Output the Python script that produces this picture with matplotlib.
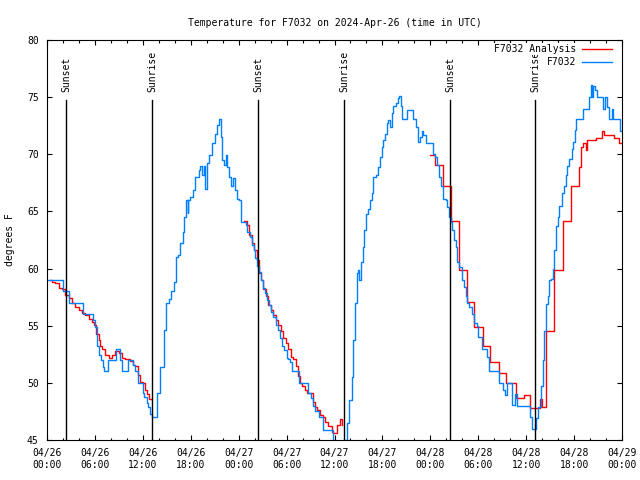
import datetime
import numpy as np
import matplotlib
matplotlib.use("Agg")
import matplotlib.pyplot as plt
import matplotlib.dates as mdates
import matplotlib.transforms as mtransforms

start = datetime.datetime(2024, 4, 26)

# observed F7032 temperature (hours since 04/26 00:00 UTC, deg F)
obs_hours = [0.0, 1.96, 2.8, 4.47, 5.7, 6.0, 6.2, 6.3, 6.55, 6.76, 6.97, 7.18, 7.39,
             7.68, 7.89, 8.64, 9.14, 9.43, 10.2, 10.75, 11.0, 11.4, 12.06, 12.2, 12.5,
             12.7, 12.9, 13.1, 13.3, 13.5, 13.77, 14.19, 14.6, 14.9, 15.23, 15.53,
             15.86, 16.15, 16.4, 16.7, 16.99, 17.2, 17.4, 17.6, 17.7, 17.95, 18.3,
             18.57, 18.99, 19.2, 19.4, 19.6, 19.8, 19.99, 20.3, 20.7, 21.0, 21.3,
             21.58, 21.8, 21.95, 22.16, 22.37, 22.58, 22.79, 23.0, 23.33, 23.54,
             23.83, 24.08, 24.25, 24.67, 24.9, 25.1, 25.4, 25.63, 25.9, 26.1, 26.34,
             26.59, 26.8, 27.0, 27.3, 27.5, 27.8, 28.05, 28.34, 28.67, 28.97, 29.17,
             29.47, 29.72, 30.0, 30.2, 30.43, 30.64, 31.39, 31.55, 32.6, 32.72, 33.0,
             33.35, 33.6, 34.0, 34.6, 35.65, 35.85, 36.5, 37.0, 37.3, 37.6, 37.86,
             38.15, 38.36, 38.57, 38.77, 38.98, 39.1, 39.32, 39.53, 39.74, 39.95,
             40.23, 40.45, 40.65, 40.86, 41.2, 41.49, 41.7, 41.9, 42.11, 42.32,
             42.53, 42.74, 42.95, 43.16, 43.37, 43.7, 43.99, 44.1, 44.27, 44.4,
             44.8, 45.03, 45.5, 45.87, 46.2, 46.4, 46.7, 46.9, 47.1, 47.46, 48.17,
             48.29, 48.58, 48.79, 49.08, 49.33, 49.55, 49.96, 50.13, 50.34, 50.55,
             50.76, 50.97, 51.17, 51.38, 51.59, 51.93, 52.22, 52.47, 52.64, 52.85,
             53.17, 53.47, 53.8, 54.0, 54.43, 55.06, 55.39, 56.64, 57.14, 57.4,
             57.64, 58.18, 58.6, 58.8, 60.48, 60.69, 61.23, 61.52, 61.82, 62.07,
             62.28, 62.48, 62.69, 62.9, 63.1, 63.32, 63.53, 63.74, 63.95, 64.16,
             64.45, 64.74, 64.95, 65.15, 65.36, 65.7, 65.9, 66.1, 66.24, 67.07,
             67.87, 68.08, 68.29, 68.4, 68.62, 68.83, 69.58, 69.87, 70.08, 70.4,
             70.7, 70.9, 71.75, 72.0]
obs_temps = [59.0, 58.0, 57.0, 56.0, 55.5, 54.9, 54.0, 53.2, 52.4, 52.0, 51.4, 51.0, 51.0,
             52.0, 52.0, 53.0, 52.0, 51.0, 52.0, 51.6, 51.0, 50.0, 49.1, 48.8, 48.2,
             47.9, 47.3, 47.0, 47.0, 47.0, 49.1, 51.4, 54.6, 57.0, 57.3, 58.0,
             58.85, 61.0, 61.2, 62.2, 63.2, 64.5, 66.0, 64.9, 66.0, 66.3, 66.9,
             68.0, 68.6, 69.0, 68.2, 69.0, 67.0, 69.2, 69.9, 71.0, 71.8, 72.6,
             73.06, 71.5, 69.5, 69.06, 69.9, 68.9, 68.0, 67.2, 67.9, 66.9,
             66.1, 66.0, 64.1, 64.1, 63.8, 63.2, 62.8, 62.06, 61.6, 60.9, 60.2,
             59.7, 59.0, 58.3, 57.83, 57.25, 56.8, 56.2, 55.8, 55.06, 54.6, 53.9,
             53.2, 52.9, 52.2, 52.05, 51.8, 51.0, 51.0, 50.0, 50.0, 49.1, 48.7,
             48.0, 47.5, 47.0, 45.9, 45.9, 44.5, 44.0, 44.5, 45.0, 46.5, 48.5,
             50.5, 53.75, 57.0, 59.6, 59.9, 59.0, 60.6, 61.9, 63.4, 64.8,
             65.2, 66.0, 66.6, 68.0, 68.2, 68.9, 69.8, 70.66, 71.25, 71.8,
             72.7, 73.0, 72.4, 73.6, 74.2, 74.5, 74.9, 75.1, 74.2, 73.06,
             73.06, 73.9, 73.9, 73.06, 72.4, 71.1, 71.5, 72.0, 71.7, 71.0, 71.0,
             70.0, 69.8, 69.1, 68.0, 67.2, 66.1, 66.0, 65.4, 64.5, 64.1,
             63.4, 62.5, 61.9, 60.6, 60.1, 59.0, 58.4, 57.6, 57.0, 56.6,
             56.0, 55.2, 55.0, 54.04, 53.0, 52.3, 51.0, 50.0, 49.4, 48.9,
             50.0, 48.06, 49.0, 48.0, 47.0, 46.0, 46.9, 47.9, 49.7, 52.0,
             54.5, 56.9, 57.6, 59.0, 59.1, 60.0, 61.6, 63.7, 64.5, 65.5,
             66.6, 67.2, 68.2, 69.0, 69.6, 70.5, 71.1, 72.1, 73.06, 74.0,
             75.03, 76.06, 75.0, 76.0, 75.6, 75.0, 74.0, 75.0, 74.1, 73.1,
             74.0, 73.06, 72.06, 72.06]

# F7032 analysis (NaN marks gaps)
ana_hours = [0.4, 0.63, 1.04, 1.46, 1.88, 2.3, 2.71, 3.13, 3.55, 3.96, 4.38, 4.8, 5.22,
             5.63, 5.93, 6.18, 6.47, 6.68, 6.89, 7.3, 7.72, 8.14, 8.56, 8.97, 9.39,
             9.81, 10.35, 10.77, 11.06, 11.35, 11.69, 12.02, 12.31, 12.52, 12.73,
             13.02, 13.03,
             24.71, 25.0, 25.34, 25.63, 25.96, 26.25, 26.55, 26.8, 27.09, 27.38,
             27.72, 28.0, 28.34, 28.67, 28.97, 29.26, 29.6, 29.93, 30.22, 30.51,
             30.85, 31.14, 31.39, 31.68, 31.98, 32.3, 32.6, 32.93, 33.27, 33.56,
             33.85, 34.18, 34.52, 34.81, 35.23, 35.65, 35.85, 36.27, 36.69, 36.9,
             36.91,
             48.0, 48.6, 49.55, 50.6, 51.63, 52.6, 53.5, 54.56, 55.47, 56.64, 57.5,
             58.72, 59.68, 60.53, 61.73, 62.0, 62.48, 63.48, 64.57, 65.62, 66.62,
             66.83, 67.08, 67.54, 67.66, 68.7, 69.54, 69.7, 71.04, 71.66, 72.0]
ana_temps = [59.0, 58.85, 58.7, 58.3, 58.2, 57.7, 57.4, 57.0, 56.66, 56.4, 56.1, 55.9, 55.6,
             55.35, 55.1, 54.3, 53.75, 53.2, 53.0, 52.4, 52.15, 52.4, 52.8, 52.6, 52.15,
             52.05, 51.9, 51.6, 51.5, 50.7, 50.1, 50.0, 49.4, 49.0, 48.56,
             48.56, np.nan,
             64.2, 63.8, 62.9, 62.2, 61.6, 60.75, 59.6, 59.0, 58.2, 57.6,
             56.8, 56.4, 55.9, 55.5, 55.1, 54.5, 53.9, 53.5, 53.0, 52.3,
             52.05, 51.5, 50.6, 50.0, 49.7, 49.4, 49.1, 49.1, 48.35, 47.9,
             47.6, 47.2, 47.0, 46.6, 46.2, 45.7, 45.6, 46.3, 46.8, 46.3,
             np.nan,
             69.9, 69.1, 67.2, 64.2, 59.9, 57.1, 54.9, 53.25, 51.85, 50.9, 50.0,
             48.65, 48.9, 47.8, 48.6, 47.9, 54.5, 59.9, 64.2, 67.2, 68.9,
             70.6, 71.0, 70.4, 71.25, 71.45, 72.06, 71.7, 71.45, 71.0, 71.0]

sun_names = ["Sunset", "Sunrise", "Sunset", "Sunrise", "Sunset", "Sunrise"]
sun_hours = [2.38, 13.15, 26.42, 37.19, 50.46, 61.1]


def to_time(hours):
    return [start + datetime.timedelta(hours=h) for h in hours]


plt.rcParams['font.family'] = 'DejaVu Sans Mono'
plt.rcParams['font.size'] = 7

fig = plt.figure(figsize=(6.4, 4.8), dpi=100)
ax = fig.add_axes([47 / 640, 1 - 440 / 480, 575 / 640, 400 / 480])

ax.plot(to_time(ana_hours), ana_temps, color='#ff0000', lw=1.0,
        drawstyle='steps-post', label='F7032 Analysis')
ax.plot(to_time(obs_hours), obs_temps, color='#0080ff', lw=1.0,
        drawstyle='steps-post', label='F7032')

trans = mtransforms.blended_transform_factory(ax.transData, ax.transAxes)
for name, t in zip(sun_names, to_time(sun_hours)):
    ax.axvline(t, ymin=0, ymax=0.85, color='black', lw=1.0)
    ax.text(t, 0.87, name, rotation=90, ha='center', va='bottom', transform=trans)

ax.set_xlim(start, start + datetime.timedelta(hours=72))
ax.set_ylim(45, 80)
ax.set_yticks(np.arange(45, 81, 5))
ax.xaxis.set_major_locator(mdates.HourLocator(byhour=[0, 6, 12, 18]))
ax.xaxis.set_minor_locator(mdates.HourLocator(byhour=range(0, 24, 2)))
ax.xaxis.set_major_formatter(mdates.DateFormatter('%m/%d\n%H:%M'))
ax.tick_params(which='both', direction='in', top=True, right=True, width=0.8)
ax.tick_params(which='major', length=3.6, pad=6)
ax.tick_params(which='minor', length=1.8)
for sp in ax.spines.values():
    sp.set_linewidth(0.8)

ax.set_title('Temperature for F7032 on 2024-Apr-26 (time in UTC)', pad=10, fontsize=7)
ax.set_ylabel('degrees F')
ax.yaxis.set_label_coords(-0.056, 0.5)

leg = ax.legend(loc='upper right', bbox_to_anchor=(0.983, 0.99), frameon=False,
                markerfirst=False, handlelength=3.1, handletextpad=0.6,
                borderpad=0, borderaxespad=0, labelspacing=0.35)
for txt in leg.get_texts():
    txt.set_bbox(dict(facecolor='white', edgecolor='none', pad=1))

fig.savefig('out.png', dpi=100)
